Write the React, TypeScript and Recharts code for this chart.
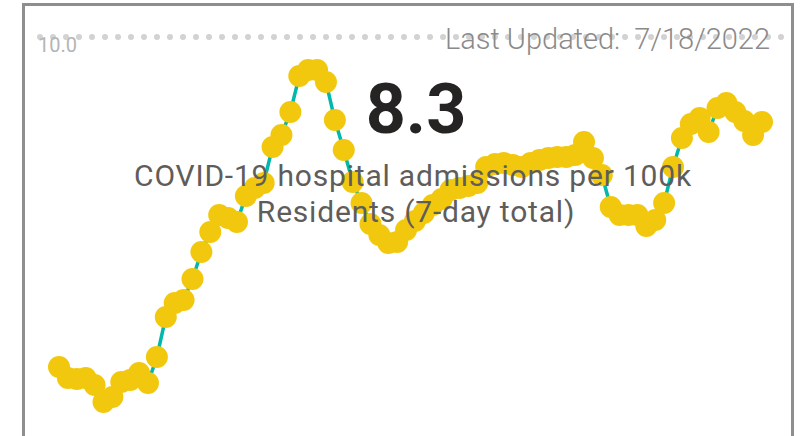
import React from "react";
import { LineChart, Line, XAxis, YAxis, ReferenceLine } from "recharts";

// ---------------------------------------------------------------------------
// Data
// ---------------------------------------------------------------------------

// one entry per daily reading, oldest first
const admissions: number[] = [
  3.4, 3.18, 3.16, 3.18, 3.04, 2.7, 2.8, 3.1, 3.14, 3.28,
  3.08, 3.6, 4.4, 4.68, 4.74, 5.16, 5.7, 6.1, 6.44, 6.38,
  6.3, 6.82, 6.98, 7.08, 7.8, 8.04, 8.5, 9.22, 9.34, 9.34,
  9.1, 8.34, 7.74, 7.1, 6.68, 6.26, 6.04, 5.88, 5.9, 6.14,
  6.32, 6.48, 6.64, 6.76, 6.94, 6.98, 7.02, 7.08, 7.4, 7.46,
  7.48, 7.44, 7.4, 7.48, 7.54, 7.58, 7.6, 7.6, 7.64, 7.9,
  7.58, 7.24, 6.6, 6.44, 6.44, 6.44, 6.22, 6.34, 6.68, 7.4,
  7.98, 8.26, 8.38, 8.1, 8.58, 8.68, 8.5, 8.32, 8.04, 8.3,
];

const Y_MAX = 10;
const Y_TICK_LABEL = "10.0";
const CURRENT_VALUE = "8.3";
const LAST_UPDATED = "Last Updated:  7/18/2022";
const TITLE_LINES = ["COVID-19 hospital admissions per 100k", "Residents (7-day total)"];

const chartData = admissions.map((value, i) => ({ day: i, value }));

// ---------------------------------------------------------------------------
// Component
// ---------------------------------------------------------------------------

export default function App() {
  return (
    <div style={styles.page}>
      <div style={styles.frame} />
      <LineChart
        width={800}
        height={560}
        data={chartData}
        margin={{ top: 37, right: 18, left: 40, bottom: 23 }}
        style={styles.chart}
      >
        <XAxis dataKey="day" hide padding={{ left: 19, right: 20 }} />
        <YAxis hide domain={[0, Y_MAX]} />
        <ReferenceLine
          y={Y_MAX}
          stroke="#d2d2d2"
          strokeWidth={6}
          strokeDasharray="0 13"
          strokeLinecap="round"
        />
        <Line
          type="linear"
          dataKey="value"
          stroke="#01B8AA"
          strokeWidth={3.5}
          dot={{ r: 11, fill: "#F2C80F", stroke: "#F2C80F", strokeWidth: 0 }}
          activeDot={false}
          isAnimationActive={false}
        />
      </LineChart>

      {/* text sits on top of the dots, as in the card */}
      <svg width={800} height={436} style={styles.overlay}>
        <text x={38} y={52} fontSize={20} fill="#b5b5b5" style={styles.font}>
          {Y_TICK_LABEL}
        </text>
        <text
          x={770}
          y={49}
          fontSize={29}
          fontWeight={300}
          fill="#8a8a8a"
          textAnchor="end"
          style={{ ...styles.font, whiteSpace: "pre" }}
        >
          {LAST_UPDATED}
        </text>
        <text
          x={416}
          y={133}
          fontSize={70}
          fontWeight={700}
          fill="#252423"
          textAnchor="middle"
          style={styles.font}
        >
          {CURRENT_VALUE}
        </text>
        {TITLE_LINES.map((line, i) => (
          <text
            key={line}
            x={i === 0 ? 413 : 416}
            y={186 + i * 36}
            fontSize={30}
            fill="#5f5d5b"
            textAnchor="middle"
            letterSpacing={0.8}
            style={styles.font}
          >
            {line}
          </text>
        ))}
      </svg>
    </div>
  );
}

// ---------------------------------------------------------------------------
// Inline styles
// ---------------------------------------------------------------------------

const styles = {
  page: {
    position: "fixed",
    left: 0,
    top: 0,
    width: 800,
    height: 436,
    overflow: "hidden",
    background: "#ffffff",
  } as React.CSSProperties,

  frame: {
    position: "absolute",
    left: 22,
    top: 3,
    width: 766,
    height: 600,
    border: "3px solid #8e8e8e",
  } as React.CSSProperties,

  chart: {
    position: "absolute",
    left: 0,
    top: 0,
  } as React.CSSProperties,

  overlay: {
    position: "absolute",
    left: 0,
    top: 0,
    pointerEvents: "none",
  } as React.CSSProperties,

  font: {
    fontFamily: "Roboto, 'Noto Sans', sans-serif",
  } as React.CSSProperties,
};
